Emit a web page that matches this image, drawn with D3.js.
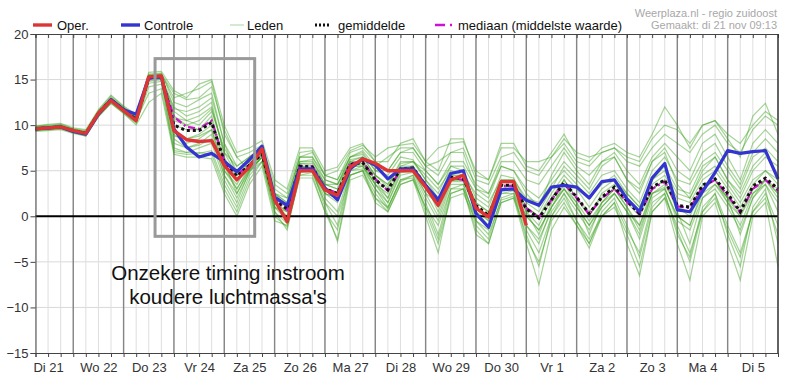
<!DOCTYPE html>
<html><head><meta charset="utf-8">
<script src="https://cdn.jsdelivr.net/npm/d3@7"></script>
<style>body{margin:0;background:#fff}svg{display:block;font-family:"Liberation Sans",Arial,sans-serif}</style>
</head><body><svg id="c" width="793" height="386"></svg>
<script>
// ---------- DATA ----------
const startTime = Date.UTC(2023, 10, 21, 6);   // Di 21 nov 06:00
const endTime = Date.UTC(2023, 11, 6, 0);      // Wo 6 dec 00:00
const stepHours = 6;
const dayLabels = ["Di 21","Wo 22","Do 23","Vr 24","Za 25","Zo 26","Ma 27","Di 28","Wo 29","Do 30","Vr 1","Za 2","Zo 3","Ma 4","Di 5"];
const yTicks = [20, 15, 10, 5, 0, -5, -10, -15];

const oper = [9.6,9.7,9.8, 9.4,9.1,11.3,12.7, 11.6,10.5,15.3,15.4, 9.4,8.4,8.2,8.3, 5.6,4.0,5.4,7.4, 1.8,-0.6,5.0,5.0, 2.9,2.3,5.4,6.3, 5.8,5.0,5.0,5.0, 3.2,1.2,4.0,4.5, 0.9,-0.1,3.8,3.8, -1.0];
const controle = [9.6,9.7,9.8, 9.3,9.0,11.2,12.8, 11.7,11.2,15.2,15.3, 9.6,7.6,6.5,6.9, 6.0,4.9,6.2,7.7, 2.1,1.2,5.2,5.2, 3.1,1.8,5.2,6.3, 5.6,4.1,5.2,5.2, 3.4,1.8,4.7,5.0, 0.3,-1.2,2.9,3.0, 1.75,1.2,3.2,3.4, 3.2,2.0,3.8,4.0, 1.9,0.5,4.2,5.8, 0.7,0.5,2.7,4.8, 7.2,6.9,7.1,7.2, 4.1];
const gemiddelde = [9.6,9.7,9.8, 9.4,9.1,11.3,12.8, 11.7,10.6,15.2,15.3, 10.0,9.4,9.4,10.3, 6.0,4.4,5.6,6.8, 1.8,0.8,5.5,5.4, 3.0,2.5,5.7,5.9, 4.0,2.9,5.2,5.3, 3.4,1.6,4.3,4.1, 1.2,0.1,3.4,3.4, 0.8,-0.2,1.8,3.7, 2.1,0.3,2.1,3.2, 1.7,0.3,3.2,4.0, 1.2,1.0,3.4,4.1, 2.5,0.5,3.3,4.2, 3.0];
const mediaan = [9.6,9.7,9.8, 9.4,9.1,11.3,12.8, 11.7,10.6,15.1,15.2, 10.9,9.8,9.6,10.5, 6.1,4.5,5.7,6.8, 1.8,0.7,5.5,5.5, 3.0,2.6,5.8,6.0, 4.1,2.8,5.1,5.3, 3.3,1.5,4.2,4.0, 1.1,0.0,3.3,3.3, 0.9,-0.1,1.8,3.6, 2.0,0.2,2.0,3.0, 1.6,0.2,3.0,3.8, 1.1,0.9,3.2,4.0, 2.3,0.4,3.0,4.0, 2.8];

const leden01 = [9.8,9.9,10.0, 9.5,9.2,11.5,13.0, 11.9,10.8,15.5,15.6, 13.5,12.8,13.0,14.2, 9.5,6.5,5.0,6.0, 2.5,1.0,5.8,5.6, 3.5,3.0,6.2,6.5, 4.5,3.2,5.8,6.0, 5.0,3.5,5.5,5.0, 2.0,1.0,4.5,4.2, 1.5,0.5,3.0,5.5, 4.0,2.5,4.5,5.0, 3.0,1.5,5.0,6.5, 4.0,3.5,6.0,7.0, 5.0,3.0,6.5,7.5, 6.0];
const leden02 = [9.4,9.5,9.6, 9.2,8.9,11.0,12.5, 11.4,10.3,14.6,14.8, 7.0,6.8,6.9,7.2, 3.5,1.0,4.5,6.0, 0.5,-0.8,4.8,5.0, 2.0,0.5,5.0,5.5, 3.0,1.5,4.5,4.8, 2.0,-0.5,3.5,3.5, -0.5,-1.5,2.5,2.8, -1.0,-2.5,0.5,2.5, 0.5,-1.5,1.0,2.5, 0.5,-1.0,2.5,3.2, -0.5,-1.5,2.0,3.0, 1.0,-1.5,2.0,3.5, 1.5];
const leden03 = [9.7,9.8,9.9, 9.5,9.3,11.4,12.9, 11.8,10.9,15.3,15.2, 11.5,10.5,10.0,11.5, 7.5,5.0,6.0,7.2, 2.0,1.2,6.0,6.0, 4.0,3.5,6.5,6.8, 5.0,4.5,6.5,6.2, 4.0,2.5,5.5,5.5, 3.0,2.0,5.5,5.0, 3.0,2.0,4.0,6.0, 4.5,3.0,5.5,6.5, 4.0,2.5,6.0,7.0, 3.5,2.0,5.0,6.5, 4.0,2.0,5.0,6.5, 5.5];
const leden04 = [9.5,9.6,9.7, 9.3,9.0,11.2,12.6, 11.6,10.5,15.0,15.4, 8.5,7.5,7.8,8.5, 4.5,2.0,4.8,6.5, 1.0,0.0,5.2,5.0, 1.5,-1.0,5.0,5.2, 3.0,1.0,4.0,4.5, 1.5,-2.0,3.0,3.5, -1.0,-2.5,2.0,2.5, -2.5,-5.0,-0.5,1.5, -1.0,-3.0,0.0,1.5, -1.5,-4.0,1.5,2.5, -2.0,-4.5,1.0,2.5, -1.0,-4.0,0.5,2.0, -2.0];
const leden05 = [9.9,10.0,10.1, 9.6,9.4,11.6,13.2, 12.0,11.0,15.6,15.7, 12.5,12.0,12.8,13.5, 8.0,4.5,6.5,7.5, 3.0,2.0,6.5,6.5, 4.5,4.0,7.0,7.5, 6.0,5.0,7.0,7.5, 5.5,4.5,7.0,7.5, 4.0,3.5,6.5,7.0, 5.0,4.5,6.5,8.0, 6.0,5.5,7.0,7.5, 6.0,5.5,7.5,9.0, 8.0,7.0,9.0,10.0, 8.0,7.0,9.5,11.0, 10.0];
const leden06 = [9.5,9.7,9.8, 9.4,9.1,11.3,12.7, 11.6,10.5,15.1,15.2, 9.5,8.5,9.0,10.0, 5.5,3.0,5.2,6.5, 1.5,0.5,5.5,5.2, 2.5,2.0,5.5,5.8, 3.5,2.0,5.0,5.5, 3.0,1.0,4.0,4.0, 0.5,-1.0,3.0,3.0, 0.0,-1.5,1.0,3.0, 1.0,-1.0,1.5,2.5, 0.5,-2.0,2.5,3.0, 0.0,-1.0,3.0,4.0, 1.5,-1.0,2.5,4.0, 2.0];
const leden07 = [9.6,9.7,9.8, 9.4,9.0,11.2,12.8, 11.7,10.6,15.2,15.3, 10.5,10.0,9.5,11.0, 6.0,2.5,5.0,6.5, 0.5,-1.5,4.5,4.5, 0.5,-2.5,4.5,5.0, 1.5,0.5,3.5,4.0, 0.0,-4.0,2.5,3.0, -2.0,-3.0,1.5,2.0, -3.0,-7.5,-1.5,1.0, -1.0,-3.5,0.0,1.5, -3.0,-6.5,0.5,2.0, -3.0,-7.0,0.0,1.5, -3.0,-7.0,0.0,1.5, -5.5];
const leden08 = [9.7,9.8,9.9, 9.4,9.2,11.4,12.9, 11.8,10.7,15.4,15.5, 10.8,10.5,11.0,12.0, 7.0,5.5,6.5,7.5, 2.5,1.5,6.0,6.2, 3.5,3.0,6.0,6.5, 4.5,3.5,5.5,6.0, 4.5,3.0,5.0,4.5, 2.5,1.5,4.0,4.0, 2.0,1.5,3.5,5.0, 3.5,2.0,3.5,4.5, 2.5,1.0,4.0,5.5, 3.0,2.5,5.5,6.5, 4.0,2.5,5.5,7.0, 4.5];
const leden09 = [9.5,9.6,9.7, 9.3,9.0,11.1,12.6, 11.5,10.4,14.8,15.0, 7.5,7.0,7.5,8.0, 4.0,1.5,5.0,6.5, 1.0,0.5,5.0,5.0, 2.5,2.0,5.5,5.5, 3.5,2.5,5.0,5.0, 2.5,1.5,4.0,4.0, 1.0,0.0,3.0,3.5, 1.0,0.0,2.0,4.0, 2.0,0.5,2.0,3.0, 1.5,0.0,3.0,4.0, 1.0,0.5,3.5,4.0, 2.0,0.5,3.0,4.0, 3.0];
const leden10 = [9.8,9.9,10.0, 9.6,9.3,11.5,13.0, 11.9,10.9,15.5,15.6, 13.0,13.5,14.0,14.8, 9.0,6.5,7.0,7.8, 3.5,2.5,7.0,7.2, 4.5,5.0,7.2,7.8, 6.5,7.5,7.8,8.0, 6.0,7.5,8.0,8.2, 5.0,4.0,7.5,7.5, 6.0,6.0,6.5,8.5, 7.0,6.5,7.0,7.5, 6.5,6.0,8.5,10.0, 9.5,8.0,10.0,10.5, 9.0,8.0,10.0,11.5, 10.5];
const leden11 = [9.3,9.4,9.5, 9.1,8.8,10.9,12.4, 11.3,10.2,14.2,14.5, 9.0,8.0,8.5,9.5, 5.0,3.5,5.8,7.0, 2.0,1.0,5.8,5.8, 3.5,3.5,6.0,6.0, 4.5,3.5,6.0,6.0, 4.0,2.0,4.5,4.5, 1.5,0.5,3.5,3.5, 0.5,-1.0,2.0,4.0, 2.0,0.0,2.5,3.5, 2.0,0.5,3.5,4.5, 2.0,1.5,4.0,5.0, 3.0,1.0,3.5,5.0, 3.5];
const leden12 = [9.6,9.7,9.8, 9.3,9.1,11.2,12.7, 11.6,10.6,15.2,15.3, 12.0,11.0,11.5,12.5, 6.5,4.0,5.5,6.8, 1.5,0.0,5.2,5.0, 2.5,1.5,5.5,5.8, 4.0,2.0,5.5,5.5, 3.5,0.5,4.0,4.0, 1.0,-0.5,3.0,3.0, 0.5,-2.0,1.5,3.0, 1.5,-2.0,1.5,3.0, 1.0,-1.0,3.0,4.0, 0.5,-3.0,2.0,3.5, 2.0,-2.0,2.0,4.0, 2.5];
const leden13 = [9.9,10.1,10.2, 9.7,9.5,11.7,13.3, 12.1,11.2,15.8,15.9, 13.8,13.0,14.5,15.0, 10.0,7.0,7.5,8.3, 4.0,3.0,7.5,7.5, 5.0,5.4,7.5,8.0, 6.0,6.0,8.0,8.5, 6.0,5.0,8.5,8.5, 4.5,4.0,8.0,8.0, 5.5,5.0,7.0,9.0, 6.5,6.0,7.5,8.0, 7.0,6.5,9.0,12.0, 10.0,7.5,10.0,10.5, 8.5,6.5,11.0,12.4, 9.0];
const leden14 = [9.4,9.5,9.6, 9.2,8.8,11.0,12.4, 11.3,10.0,12.5,13.5, 6.8,6.5,6.5,6.3, 2.5,0.0,3.5,5.5, -0.5,-1.0,4.2,4.2, 0.5,-1.5,4.5,5.0, 2.5,0.8,4.0,4.2, 1.0,-1.0,3.0,3.0, 0.0,-1.0,2.5,2.5, -1.0,-3.0,1.0,3.0, 1.0,-1.0,1.0,2.5, 0.5,-2.5,2.0,3.0, 0.0,-1.0,2.5,3.5, 1.5,0.0,2.5,3.5, 0.5];
const leden15 = [9.6,9.8,9.9, 9.5,9.2,11.4,12.9, 11.7,10.7,15.4,15.4, 11.0,10.0,10.5,11.8, 7.0,4.5,5.8,7.0, 2.5,1.5,6.5,6.5, 4.0,3.5,6.5,7.0, 5.0,5.0,7.0,7.0, 5.0,3.5,6.0,6.0, 3.5,2.5,5.5,5.0, 2.5,1.0,4.5,7.0, 5.0,3.5,6.0,7.0, 5.0,3.5,6.5,8.0, 6.5,5.0,8.0,9.0, 6.5,4.0,8.0,9.5, 8.0];
const leden16 = [9.5,9.6,9.8, 9.3,9.0,11.2,12.7, 11.6,10.5,15.0,15.1, 8.0,7.5,8.0,9.0, 4.5,2.5,5.2,6.5, 1.0,-0.5,5.0,5.0, 1.0,-2.8,4.0,4.5, 2.0,0.5,3.5,4.0, 1.0,-2.5,2.5,3.0, -1.5,-3.0,1.5,2.0, -2.0,-5.5,0.0,2.5, -0.5,-3.0,0.5,2.0, -1.0,-4.5,1.0,2.5, -1.5,-5.0,0.5,2.5, -2.0,-5.5,1.0,3.0, -3.0];
const leden17 = [9.7,9.8,9.9, 9.4,9.1,11.3,12.8, 11.7,10.8,15.2,15.3, 10.0,9.5,9.5,10.5, 6.0,4.5,5.5,6.8, 2.0,1.0,5.5,5.5, 3.0,2.5,5.8,6.0, 4.0,3.0,5.3,5.5, 3.5,2.0,4.5,4.5, 1.5,0.5,4.0,4.0, 1.0,0.0,2.5,4.5, 3.0,1.0,3.0,4.0, 2.5,1.0,4.0,5.0, 2.5,2.0,4.5,5.5, 3.5,1.5,4.0,5.0, 4.0];
const leden18 = [9.4,9.6,9.7, 9.2,9.0,11.1,12.6, 11.5,10.4,14.9,15.1, 8.8,8.5,8.8,9.5, 5.0,3.0,5.5,6.7, 1.5,0.5,5.5,5.3, 2.8,2.5,5.5,5.5, 3.5,1.5,4.8,5.0, 2.5,0.0,3.8,3.8, 0.5,-0.5,3.0,3.0, 0.0,-1.5,1.0,3.5, 1.5,-0.5,1.5,3.0, 1.0,-1.5,2.5,3.5, 1.0,0.0,3.0,4.0, 2.0,0.0,3.0,4.0, 2.5];
const leden19 = [9.6,9.7,9.8, 9.3,9.1,11.3,12.8, 11.7,10.6,15.1,15.2, 11.8,11.5,12.0,13.0, 8.0,5.5,6.5,7.5, 2.5,2.0,6.5,7.0, 4.5,4.0,6.5,7.2, 5.5,6.5,7.5,7.5, 5.5,6.0,7.0,7.0, 3.0,2.5,6.0,6.0, 4.0,3.5,5.5,7.5, 5.5,4.5,6.0,6.5, 4.0,3.0,6.0,7.5, 5.0,4.0,7.0,8.0, 5.5,3.5,7.0,8.5, 7.0];
const leden20 = [9.5,9.6,9.7, 9.3,9.0,11.2,12.7, 11.6,10.5,13.5,14.0, 7.2,7.0,7.0,6.8, 3.0,0.5,4.0,6.0, 0.0,-1.2,4.5,4.8, 1.5,0.0,4.5,5.0, 2.0,1.0,3.8,4.5, 0.5,-3.0,2.0,2.5, -0.5,-2.0,1.8,2.2, -1.5,-4.0,0.0,2.0, -0.5,-2.5,0.0,1.0, -2.0,-5.5,0.5,2.0, -1.0,-4.0,0.5,2.0, -1.5,-4.5,0.5,2.5, -1.0];
const leden = [leden01,leden02,leden03,leden04,leden05,leden06,leden07,leden08,leden09,leden10,leden11,leden12,leden13,leden14,leden15,leden16,leden17,leden18,leden19,leden20];

const legendLabels = ["Oper.", "Controle", "Leden", "gemiddelde", "mediaan (middelste waarde)"];
const sourceLines = ["Weerplaza.nl - regio zuidoost", "Gemaakt: di 21 nov 09:13"];
const annotationLines = ["Onzekere timing instroom", "koudere luchtmassa's"];
const boxTimes = [Date.UTC(2023,10,23,15), Date.UTC(2023,10,25,14,30)];
const boxValues = [17.3, -2.2];

// ---------- CHART ----------
const svg = d3.select("#c");
const L = 35.5, R = 778, T = 34, B = 353;
const x = d3.scaleUtc().domain([startTime, endTime]).range([L, R]);
const y = d3.scaleLinear().domain([-15, 20]).range([B, T]);
const times = d3.range(controle.length).map(i => new Date(startTime + i * stepHours * 3600e3));
const sixHours = d3.utcHour.every(6).range(new Date(startTime), new Date(endTime + 1));
const midnights = d3.utcDay.range(new Date(startTime), new Date(endTime + 1));
const noons = midnights.slice(0, dayLabels.length).map(d => new Date(+d - 12 * 3600e3));

// grid
const g = svg.append("g");
g.selectAll(".hg").data(yTicks.filter(v => v !== 0 && v !== 20 && v !== -15)).join("line")
  .attr("x1", L).attr("x2", R).attr("y1", d => y(d)).attr("y2", d => y(d))
  .attr("stroke", "#d9d9d9").attr("stroke-width", 1);
g.selectAll(".vg").data(sixHours).join("line")
  .attr("x1", d => x(d)).attr("x2", d => x(d)).attr("y1", T).attr("y2", B)
  .attr("stroke", "#dedede").attr("stroke-width", 1);
g.selectAll(".vd").data(midnights.filter(d => +d < endTime)).join("line")
  .attr("x1", d => x(d)).attr("x2", d => x(d)).attr("y1", T).attr("y2", B)
  .attr("stroke", "#858585").attr("stroke-width", 1.4);

// members
const line = d3.line().x((d, i) => x(times[i])).y(d => y(d));
svg.append("g").selectAll("path").data(leden).join("path")
  .attr("d", line).attr("fill", "none")
  .attr("stroke", "rgb(55,160,25)").attr("stroke-opacity", 0.45).attr("stroke-width", 1.2);

// zero line
svg.append("line").attr("x1", L).attr("x2", R).attr("y1", y(0)).attr("y2", y(0))
  .attr("stroke", "#000").attr("stroke-width", 2);

// median, mean, control, oper
svg.append("path").attr("d", line(mediaan)).attr("fill", "none")
  .attr("stroke", "#d010d0").attr("stroke-width", 2.2).attr("stroke-dasharray", "7,3,2,3");
svg.append("path").attr("d", line(gemiddelde)).attr("fill", "none")
  .attr("stroke", "#111").attr("stroke-width", 3).attr("stroke-dasharray", "3,3");
svg.append("path").attr("d", line(controle)).attr("fill", "none")
  .attr("stroke", "#3434d0").attr("stroke-width", 3.2).attr("stroke-linejoin", "round");
svg.append("path").attr("d", line(oper)).attr("fill", "none")
  .attr("stroke", "#dd3535").attr("stroke-width", 3.4).attr("stroke-linejoin", "round");

// annotation box
svg.append("rect")
  .attr("x", x(boxTimes[0])).attr("y", y(boxValues[0]))
  .attr("width", x(boxTimes[1]) - x(boxTimes[0])).attr("height", y(boxValues[1]) - y(boxValues[0]))
  .attr("fill", "none").attr("stroke", "#9a9a9a").attr("stroke-width", 3);

// axes
const axL = svg.append("g").attr("transform", `translate(${L},0)`)
  .call(d3.axisLeft(y).tickValues(yTicks).tickSize(5).tickPadding(2).tickFormat(d3.format("d")));
const axB = svg.append("g").attr("transform", `translate(0,${B})`)
  .call(d3.axisBottom(x).tickValues(sixHours).tickSize(4).tickFormat(""));
const axT = svg.append("g").attr("transform", `translate(0,${T})`)
  .call(d3.axisTop(x).tickValues(sixHours).tickSize(-4).tickFormat(""));
const axLab = svg.append("g").attr("transform", `translate(0,${B})`)
  .call(d3.axisBottom(x).tickValues(noons).tickSize(0).tickPadding(10).tickFormat((d, i) => dayLabels[i]));
axLab.select(".domain").remove();
[axL, axB, axT].forEach(a => { a.select(".domain").attr("stroke", "#444"); a.selectAll(".tick line").attr("stroke", "#444"); });
svg.selectAll(".tick text").attr("font-family", "Liberation Sans, Arial, sans-serif").attr("font-size", 13).attr("fill", "#333");
svg.append("line").attr("x1", R).attr("x2", R).attr("y1", T).attr("y2", B).attr("stroke", "#333").attr("stroke-width", 1.5);

// legend
const lg = svg.append("g").attr("font-size", 13).attr("fill", "#111");
const ly = 25;
lg.append("line").attr("x1", 33).attr("x2", 52).attr("y1", ly).attr("y2", ly).attr("stroke", "#dd3535").attr("stroke-width", 3.4);
lg.append("text").attr("x", 57).attr("y", ly + 4.5).text(legendLabels[0]);
lg.append("line").attr("x1", 121).attr("x2", 140).attr("y1", ly).attr("y2", ly).attr("stroke", "#3434d0").attr("stroke-width", 3.4);
lg.append("text").attr("x", 144).attr("y", ly + 4.5).text(legendLabels[1]);
lg.append("line").attr("x1", 230).attr("x2", 244).attr("y1", ly).attr("y2", ly).attr("stroke", "#b8ddb0").attr("stroke-width", 1.2);
lg.append("text").attr("x", 247).attr("y", ly + 4.5).text(legendLabels[2]);
lg.append("line").attr("x1", 315).attr("x2", 330).attr("y1", ly).attr("y2", ly).attr("stroke", "#111").attr("stroke-width", 3).attr("stroke-dasharray", "2,2");
lg.append("text").attr("x", 338).attr("y", ly + 4.5).text(legendLabels[3]);
lg.append("line").attr("x1", 435).attr("x2", 454).attr("y1", ly).attr("y2", ly).attr("stroke", "#d010d0").attr("stroke-width", 2.5).attr("stroke-dasharray", "10,5,2,10");
lg.append("text").attr("x", 458).attr("y", ly + 4.5).text(legendLabels[4]);

// source
svg.append("g").attr("font-size", 11).attr("fill", "#a8a8a8").attr("text-anchor", "end")
  .selectAll("text").data(sourceLines).join("text")
  .attr("x", 777).attr("y", (d, i) => 17 + i * 12).text(d => d);

// annotation text
svg.append("g").attr("font-size", 20.5).attr("fill", "#111").attr("text-anchor", "middle")
  .selectAll("text").data(annotationLines).join("text")
  .attr("x", 228).attr("y", (d, i) => 280 + i * 24).text(d => d);
</script></body></html>
